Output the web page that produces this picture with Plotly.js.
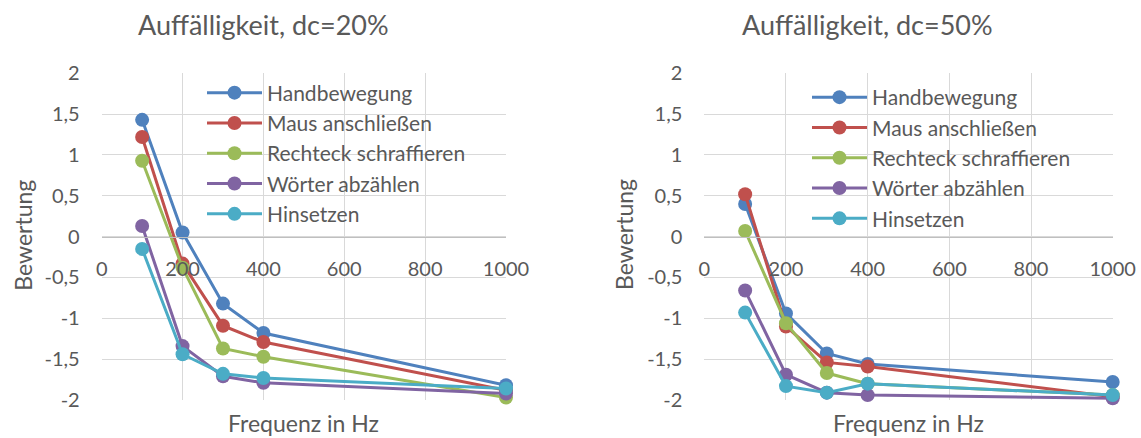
<!DOCTYPE html>
<html>
<head>
<meta charset="utf-8">
<script src="https://cdn.plot.ly/plotly-3.0.1.min.js"></script>
<style>html,body{margin:0;padding:0;background:#fff;}#chart{width:1141px;height:438px;}</style>
</head>
<body>
<div id="chart"></div>
<script>
// ---- data ----
const frequencies = [100, 200, 300, 400, 1000];
const seriesNames = ["Handbewegung", "Maus anschließen", "Rechteck schraffieren", "Wörter abzählen", "Hinsetzen"];
const seriesColors = ["#4F81BD", "#C0504D", "#9BBB59", "#8064A2", "#4BACC6"];

// dc = 20%
const hand20 = [1.43, 0.05, -0.82, -1.18, -1.82];
const maus20 = [1.22, -0.33, -1.09, -1.29, -1.88];
const recht20 = [0.93, -0.38, -1.37, -1.47, -1.97];
const woerter20 = [0.13, -1.34, -1.71, -1.79, -1.92];
const hinsetzen20 = [-0.15, -1.44, -1.68, -1.73, -1.86];

// dc = 50%
const hand50 = [0.40, -0.94, -1.43, -1.56, -1.78];
const maus50 = [0.52, -1.10, -1.54, -1.59, -1.96];
const recht50 = [0.07, -1.06, -1.67, -1.80, -1.94];
const woerter50 = [-0.66, -1.69, -1.91, -1.94, -1.98];
const hinsetzen50 = [-0.93, -1.83, -1.91, -1.80, -1.94];

const yTickVals = [2, 1.5, 1, 0.5, 0, -0.5, -1, -1.5, -2];
const yTickText = ["2", "1,5", "1", "0,5", "0", "-0,5", "-1", "-1,5", "-2"];
const xTickVals = [0, 200, 400, 600, 800, 1000];
const xTickText = ["0", "200", "400", "600", "800", "1000"];

const titles = ["Auffälligkeit, dc=20%", "Auffälligkeit, dc=50%"];
const xTitle = "Frequenz in Hz";
const yTitle = "Bewertung";

// ---- build ----
const FONT = "Lato, 'Open Sans', sans-serif";
const TXT = "#595959";
const W = 1141, H = 438;
const set20 = [hand20, maus20, recht20, woerter20, hinsetzen20];
const set50 = [hand50, maus50, recht50, woerter50, hinsetzen50];

const traces = [];
[set20, set50].forEach((set, p) => {
  set.forEach((vals, i) => {
    traces.push({
      type: "scatter", mode: "lines+markers",
      x: frequencies, y: vals, name: seriesNames[i],
      xaxis: p === 0 ? "x" : "x2", yaxis: p === 0 ? "y" : "y2",
      legend: p === 0 ? "legend" : "legend2",
      line: {color: seriesColors[i], width: 3},
      marker: {color: seriesColors[i], size: 14},
      cliponaxis: false
    });
  });
});

const yDom = [(H - 400) / H, (H - 73.3) / H];
const zeroPos = (H - 236.7) / H;

function xAxis(dom) {
  return {
    domain: dom, range: [0, 1000], anchor: "free", position: zeroPos,
    tickvals: xTickVals, ticktext: xTickText, ticks: "", showgrid: true, gridcolor: "#D9D9D9", gridwidth: 1,
    zeroline: false, showline: true, linecolor: "#BFBFBF", linewidth: 1,
    tickfont: {family: FONT, size: 20, color: TXT}, ticklabelstandoff: 14, fixedrange: true
  };
}
function yAxis(xref) {
  return {
    domain: yDom, range: [-2, 2], anchor: xref,
    tickvals: yTickVals, ticktext: yTickText, ticks: "", showgrid: true, gridcolor: "#D9D9D9", gridwidth: 1,
    zeroline: false, showline: false,
    tickfont: {family: FONT, size: 20, color: TXT}, ticklabelstandoff: 21, fixedrange: true
  };
}

const legendBase = {
  bgcolor: "rgba(255,255,255,0)", borderwidth: 0, font: {family: FONT, size: 21, color: TXT},
  xanchor: "left", yanchor: "top", itemwidth: 55, tracegroupgap: 0, itemclick: false
};

// white legend panels (drawn over the gridlines, under the traces)
function panel(x0, x1, y0, y1) {
  return {type: "rect", xref: "paper", yref: "paper", x0: x0 / W, x1: x1 / W, y0: (H - y1) / H, y1: (H - y0) / H,
    fillcolor: "#ffffff", line: {width: 0}, layer: "between"};
}

const annFont = (s) => ({family: FONT, size: s, color: TXT});
const layout = {
  width: W, height: H, margin: {l: 0, r: 0, t: 0, b: 0},
  paper_bgcolor: "#ffffff", plot_bgcolor: "#ffffff",
  showlegend: true,
  xaxis: xAxis([101.7 / W, 506 / W]),
  yaxis: yAxis("x"),
  xaxis2: xAxis([704.3 / W, 1112.7 / W]),
  yaxis2: yAxis("x2"),
  legend: Object.assign({}, legendBase, {x: 202 / W, y: (H - 72.5) / H}),
  legend2: Object.assign({}, legendBase, {x: 807 / W, y: (H - 77) / H}),
  shapes: [panel(197, 490, 82, 218), panel(793, 1102, 85, 232)],
  annotations: [
    {text: titles[0], x: 263 / W, y: (H - 25) / H, xref: "paper", yref: "paper", showarrow: false, xanchor: "center", yanchor: "middle", font: annFont(27)},
    {text: titles[1], x: 867 / W, y: (H - 25) / H, xref: "paper", yref: "paper", showarrow: false, xanchor: "center", yanchor: "middle", font: annFont(27)},
    {text: xTitle, x: 303 / W, y: (H - 423) / H, xref: "paper", yref: "paper", showarrow: false, xanchor: "center", yanchor: "middle", font: annFont(23)},
    {text: xTitle, x: 908 / W, y: (H - 423) / H, xref: "paper", yref: "paper", showarrow: false, xanchor: "center", yanchor: "middle", font: annFont(23)},
    {text: yTitle, x: 22.7 / W, y: (H - 235) / H, xref: "paper", yref: "paper", showarrow: false, textangle: -90, xanchor: "center", yanchor: "middle", font: annFont(23)},
    {text: yTitle, x: 624 / W, y: (H - 235) / H, xref: "paper", yref: "paper", showarrow: false, textangle: -90, xanchor: "center", yanchor: "middle", font: annFont(23)}
  ]
};

Plotly.newPlot("chart", traces, layout, {staticPlot: true, displayModeBar: false});
</script>
</body>
</html>
